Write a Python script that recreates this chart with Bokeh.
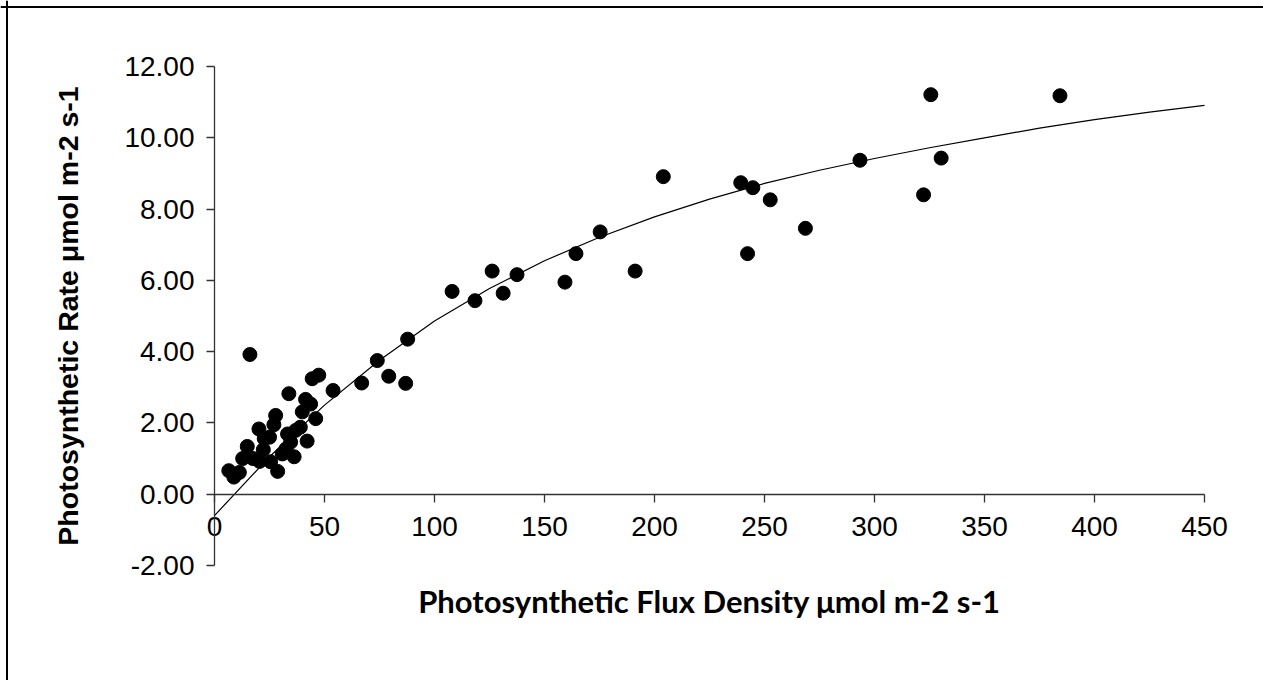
from bokeh.plotting import figure
from bokeh.models import FixedTicker, NumeralTickFormatter, Span
from bokeh.embed import file_html
from bokeh.resources import INLINE

# Observed points (PPFD, photosynthetic rate)
ppfd = [6.5, 8.8, 11.3, 12.8, 14.9, 16.1, 17.5, 20.2, 20.5, 22.2, 22.6, 25.0, 25.5,
        27.0, 27.8, 28.7, 30.8, 32.5, 33.2, 33.8, 34.6, 36.2, 36.9, 39.0, 39.9, 41.4,
        42.1, 43.7, 44.4, 46.0, 47.4, 53.9, 66.9, 74.0, 79.2, 86.9, 87.8,
        108.0, 118.4, 126.2, 131.2, 137.5, 159.3, 164.3, 175.3, 191.2, 204.0,
        239.2, 244.7, 252.6, 242.3, 268.6, 293.4, 322.3, 325.6, 330.3, 384.3]
rate = [0.66, 0.48, 0.61, 1.00, 1.34, 3.92, 1.00, 1.83, 0.92, 1.25, 1.56, 1.60, 0.91,
        1.95, 2.21, 0.64, 1.13, 1.27, 1.69, 2.82, 1.46, 1.05, 1.79, 1.88, 2.31, 2.66,
        1.49, 2.53, 3.24, 2.12, 3.34, 2.91, 3.12, 3.75, 3.31, 3.11, 4.35,
        5.69, 5.43, 6.26, 5.64, 6.16, 5.95, 6.75, 7.36, 6.26, 8.91,
        8.74, 8.60, 8.26, 6.75, 7.46, 9.37, 8.40, 11.21, 9.43, 11.18]

# Fitted curve
curve_x = [0, 25, 50, 75, 100, 125, 150, 175, 200, 225, 250, 275, 300, 325, 350, 375, 400, 425, 450]
curve_y = [-0.60, 1.05, 2.50, 3.76, 4.86, 5.77, 6.55, 7.21, 7.78, 8.28, 8.72, 9.09, 9.42,
           9.72, 10.00, 10.27, 10.51, 10.72, 10.91]

x_ticks = [0, 50, 100, 150, 200, 250, 300, 350, 400, 450]
y_ticks = [-2, 0, 2, 4, 6, 8, 10, 12]

W, H = 1263, 680
X0_PX, XPX_PER = 214.0, 2.2        # pixel of x=0, pixels per x unit
Y0_PX, YPX_PER = 493.7, 35.64      # pixel of y=0, pixels per y unit
x_start = -X0_PX / XPX_PER
x_end = (W - X0_PX) / XPX_PER
y_end = Y0_PX / YPX_PER
y_start = -(H - Y0_PX) / YPX_PER

p = figure(width=W, height=H, x_range=(x_start, x_end), y_range=(y_start, y_end),
           output_backend="svg", toolbar_location=None, title_location=None,
           min_border=0)
p.outline_line_color = None
p.xgrid.grid_line_color = None
p.ygrid.grid_line_color = None
p.background_fill_color = "white"
p.border_fill_color = "white"

# chart-area border (left/top visible in the reference)
p.add_layout(Span(location=x_start + 6.5 / XPX_PER, dimension="height",
                  line_color="black", line_width=2))
p.add_layout(Span(location=y_end - 6.5 / YPX_PER, dimension="width",
                  line_color="black", line_width=2))

p.line(curve_x, curve_y, line_color="black", line_width=1.2)
p.scatter(ppfd, rate, size=14, fill_color="black", line_color="black")

axis_col = "#333333"
xa = p.xaxis[0]
xa.fixed_location = 0
xa.bounds = (0, 450)
xa.ticker = FixedTicker(ticks=x_ticks)
xa.major_tick_out = 8
xa.major_tick_in = 0
xa.minor_tick_line_color = None
xa.axis_line_color = axis_col
xa.axis_line_width = 1.3
xa.major_tick_line_color = axis_col
xa.major_tick_line_width = 1.3
xa.major_label_text_font = "Liberation Sans"
xa.major_label_text_font_size = "28px"
xa.major_label_text_color = "black"
xa.major_label_standoff = 15
xa.axis_label = "Photosynthetic Flux Density μmol m-2 s-1"
xa.axis_label_text_font = "Lato"
xa.axis_label_text_font_style = "bold"
xa.axis_label_text_font_size = "31px"
xa.axis_label_text_color = "black"
xa.axis_label_standoff = 42

ya = p.yaxis[0]
ya.fixed_location = 0
ya.bounds = (-2, 12)
ya.ticker = FixedTicker(ticks=y_ticks)
ya.formatter = NumeralTickFormatter(format="0.00")
ya.major_tick_out = 8
ya.major_tick_in = 0
ya.minor_tick_line_color = None
ya.axis_line_color = axis_col
ya.axis_line_width = 1.3
ya.major_tick_line_color = axis_col
ya.major_tick_line_width = 1.3
ya.major_label_text_font = "Liberation Sans"
ya.major_label_text_font_size = "28px"
ya.major_label_text_color = "black"
ya.major_label_standoff = 12
ya.axis_label = "Photosynthetic Rate μmol m-2 s-1"
ya.axis_label_text_font = "Liberation Sans"
ya.axis_label_text_font_style = "bold"
ya.axis_label_text_font_size = "28.5px"
ya.axis_label_text_color = "black"
ya.axis_label_standoff = 37

open("out.html", "w").write(file_html(p, INLINE))
